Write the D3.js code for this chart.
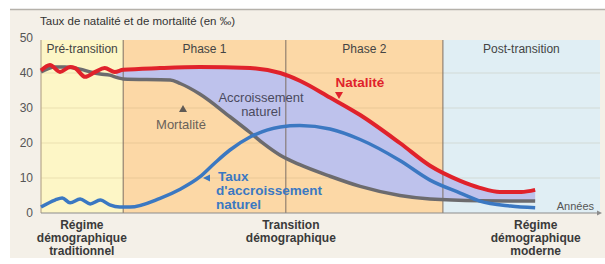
<!DOCTYPE html>
<html><head><meta charset="utf-8">
<script src="https://cdn.jsdelivr.net/npm/d3@7/dist/d3.min.js"></script>
<style>body{margin:0;background:#fff}svg{display:block}</style>
</head><body>
<svg id="chart" width="605" height="264"></svg>
<script>
// ---- data ----
const yTicks = [0, 10, 20, 30, 40, 50];
const zoneNames = ["Pré-transition", "Phase 1", "Phase 2", "Post-transition"];
const zoneBounds = [0, 14.7, 43.8, 71.9, 100];
const bottomLabels = [
  ["Régime", "démographique", "traditionnel"],
  ["Transition", "démographique"],
  ["Régime", "démographique", "moderne"]
];
const bottomLabelPos = [7.3, 44.7, 88.5];
// Natalité
const natT = [0, 1.6, 3.4, 5.2, 6.1, 7.9, 9.7, 11.4, 13.2, 14.7, 21.3, 28.4, 37.4, 42.8, 46.3, 51.7, 57.1, 64.2, 69.6, 75.0, 78.5, 82.1, 85.9, 88.4];
const natV = [40.7, 42.3, 40.3, 41.7, 41.4, 38.9, 40.3, 41.4, 40.3, 40.9, 41.4, 41.7, 41.4, 40.0, 37.8, 33.0, 28.0, 20.0, 13.5, 9.2, 7.2, 6.0, 6.0, 6.6];
// Mortalité
const morT = [0, 2.5, 4.3, 7.0, 8.8, 10.6, 12.3, 13.8, 14.7, 23.1, 24.9, 28.4, 33.8, 37.4, 40.0, 42.8, 46.3, 51.7, 57.1, 64.2, 69.6, 78.5, 88.4];
const morV = [40.3, 41.7, 41.7, 41.1, 40.3, 39.7, 39.4, 38.6, 38.3, 38.0, 37.0, 34.0, 27.5, 23.0, 19.6, 16.5, 13.8, 10.5, 7.6, 5.0, 4.0, 3.5, 3.4];
// Taux d'accroissement naturel
const accT = [0, 2.5, 3.8, 5.2, 7.0, 8.8, 10.6, 12.3, 14.1, 15.9, 21.3, 24.9, 28.4, 31.1, 33.8, 37.4, 42.8, 46.3, 51.7, 57.1, 64.2, 69.6, 75.0, 78.5, 84.0, 88.4];
const accV = [1.7, 3.7, 4.3, 2.9, 4.0, 2.6, 3.7, 2.3, 1.7, 1.7, 4.2, 6.8, 10.3, 14.3, 18.0, 21.7, 24.6, 25.0, 24.0, 21.0, 15.0, 9.4, 5.7, 3.4, 2.0, 1.5];

// ---- styles ----
const zoneFill = ["#fdf6c6", "#fcd8a6", "#fcd8a6", "#e0eef4"];
const font = "'Liberation Sans',Arial,sans-serif";

const svg = d3.select("#chart");
const x = d3.scaleLinear().domain([0, 100]).range([41, 600]);
const y = d3.scaleLinear().domain([0, 50]).range([213, 38]);

// background panel
svg.append("rect").attr("x", 10).attr("y", 10).attr("width", 595).attr("height", 248).attr("fill", "#f4f0e8");
svg.append("line").attr("x1", 10).attr("x2", 605).attr("y1", 9.5).attr("y2", 9.5).attr("stroke", "#b5b1aa").attr("stroke-width", 1.5);

// zones
const zones = zoneNames.map((n, i) => ({ name: n, a: zoneBounds[i], b: zoneBounds[i + 1], fill: zoneFill[i] }));
svg.selectAll("rect.zone").data(zones).join("rect").attr("class", "zone")
  .attr("x", d => x(d.a)).attr("width", d => x(d.b) - x(d.a))
  .attr("y", 40).attr("height", y(0) - 40).attr("fill", d => d.fill);

// gridlines
svg.selectAll("line.grid").data(yTicks.filter(v => v > 0 && v < 50)).join("line").attr("class", "grid")
  .attr("x1", x(0)).attr("x2", x(100)).attr("y1", d => y(d)).attr("y2", d => y(d))
  .attr("stroke", "#a08850").attr("stroke-opacity", 0.18).attr("stroke-width", 1);

// curves
const pts = (T, V) => T.map((t, i) => [t, V[i]]);
const nat = pts(natT, natV), mor = pts(morT, morV), acc = pts(accT, accV);
const line = d3.line().x(d => x(d[0])).y(d => y(d[1])).curve(d3.curveMonotoneX);

// fill between natalité and mortalité
const natSeg = nat.filter(d => d[0] >= 13.2);
const morSeg = mor.filter(d => d[0] >= 13.8).slice().reverse();
svg.append("path")
  .attr("d", line(natSeg) + "L" + line(morSeg).slice(1) + "Z")
  .attr("fill", "#bec2ec");

// zone dividers
svg.selectAll("line.div").data(zoneBounds.slice(1, 4)).join("line").attr("class", "div")
  .attr("x1", d => x(d)).attr("x2", d => x(d)).attr("y1", 40).attr("y2", y(0))
  .attr("stroke", "#7d6e62").attr("stroke-width", 1);

// axes
svg.append("line").attr("x1", x(0)).attr("x2", x(0)).attr("y1", 40).attr("y2", y(0)).attr("stroke", "#b8a88c").attr("stroke-width", 1.2);
svg.append("line").attr("x1", x(0)).attr("x2", 597).attr("y1", y(0)).attr("y2", y(0)).attr("stroke", "#8c8c8c").attr("stroke-width", 1.2);
svg.append("path").attr("d", `M597,${y(0) - 2.5}L602,${y(0)}L597,${y(0) + 2.5}Z`).attr("fill", "#8c8c8c");

const yAxis = d3.axisLeft(y).tickValues(yTicks).tickSize(0).tickPadding(8);
const ga = svg.append("g").attr("transform", `translate(${x(0)},0)`).call(yAxis);
ga.select(".domain").remove();
ga.selectAll("text").attr("font-family", font).attr("font-size", 12).attr("fill", "#555");

// series lines
svg.append("path").attr("d", line(mor)).attr("fill", "none").attr("stroke", "#6c6b6e").attr("stroke-width", 3.5);
svg.append("path").attr("d", line(acc)).attr("fill", "none").attr("stroke", "#3b78c2").attr("stroke-width", 3.5);
svg.append("path").attr("d", line(nat)).attr("fill", "none").attr("stroke", "#e0222b").attr("stroke-width", 4);

// title
svg.append("text").attr("x", 40).attr("y", 25).attr("font-family", font).attr("font-size", 11.5)
  .attr("fill", "#333").text("Taux de natalité et de mortalité (en ‰)");

// zone labels
svg.selectAll("text.zl").data(zones).join("text").attr("class", "zl")
  .attr("x", d => (x(d.a) + x(d.b)) / 2).attr("y", 53).attr("text-anchor", "middle")
  .attr("font-family", font).attr("font-size", 12).attr("fill", "#444").text(d => d.name);

// bottom labels
bottomLabels.forEach((lines, i) => {
  const t = svg.append("text").attr("text-anchor", "middle").attr("font-family", font)
    .attr("font-size", 12).attr("font-weight", "bold").attr("fill", "#3a3a3a");
  lines.forEach((s, j) => t.append("tspan").attr("x", x(bottomLabelPos[i])).attr("y", 229 + j * 13).text(s));
});

// Années
svg.append("text").attr("x", 594).attr("y", 210).attr("text-anchor", "end").attr("font-family", font)
  .attr("font-size", 11).attr("fill", "#555").text("Années");

// annotations
function label(lines, xp, yp, color, weight, size) {
  const t = svg.append("text").attr("text-anchor", "middle").attr("font-family", font)
    .attr("font-size", size).attr("font-weight", weight).attr("fill", color);
  lines.forEach((s, j) => t.append("tspan").attr("x", xp).attr("y", yp + j * 13.5).text(s));
  return t;
}
label(["Natalité"], 360, 87, "#e0222b", "bold", 13.5);
svg.append("path").attr("d", "M335,92L343,92L339,99Z").attr("fill", "#e0222b");
label(["Accroissement", "naturel"], 261, 102, "#4a4a5e", "normal", 13);
svg.append("path").attr("d", "M183,105L187,112L179,112Z").attr("fill", "#5f5a55");
label(["Mortalité"], 181, 129, "#6a625a", "normal", 13);
svg.append("path").attr("d", "M203,178L210,174.5L210,181.5Z").attr("fill", "#3b78c2");
const tx = svg.append("text").attr("font-family", font).attr("font-size", 13.5).attr("fill", "#3b78c2").attr("font-weight", "bold");
[["Taux", 218, 181], ["d'accroissement", 216, 195], ["naturel", 216, 209]].forEach(([s, a, b]) => tx.append("tspan").attr("x", a).attr("y", b).text(s));
</script>
</body></html>
